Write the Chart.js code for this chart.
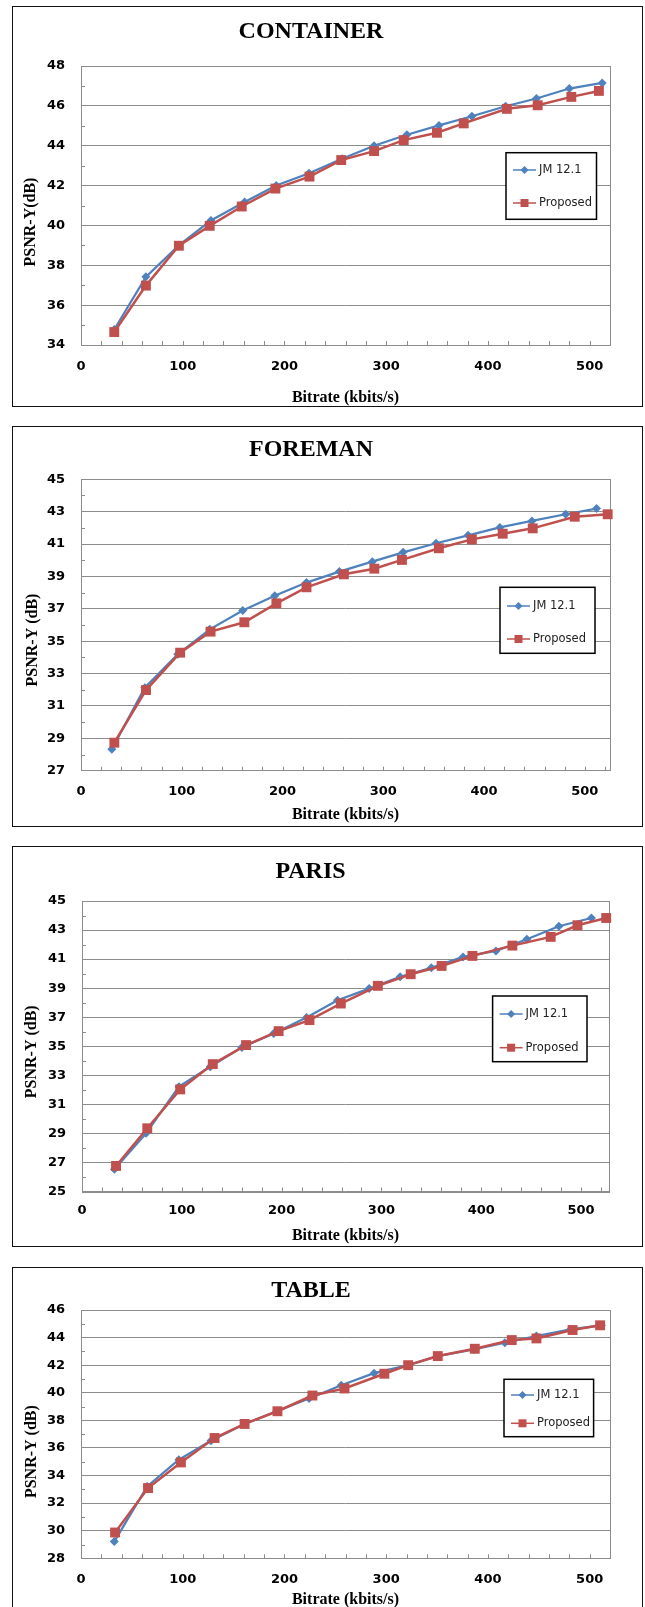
<!DOCTYPE html>
<html>
<head>
<meta charset="utf-8">
<script src="https://cdn.jsdelivr.net/npm/chart.js@4.4.1/dist/chart.umd.min.js"></script>
<style>
html, body { margin: 0; padding: 0; background: #fff; }
body { width: 645px; height: 1607px; overflow: hidden; position: relative; }
.panel { position: absolute; left: 12px; width: 631px; }
.panel::after { content: ''; position: absolute; inset: 0; border: 1.5px solid #111; pointer-events: none; }
.panel canvas { position: absolute; left: 0; top: 0; }
</style>
</head>
<body>
<div class="panel" style="top:6px;height:401px"><canvas id="container" width="631" height="401"></canvas></div>
<div class="panel" style="top:426px;height:401px"><canvas id="foreman" width="631" height="401"></canvas></div>
<div class="panel" style="top:846px;height:401px"><canvas id="paris" width="631" height="401"></canvas></div>
<div class="panel" style="top:1267px;height:342px"><canvas id="table" width="631" height="342"></canvas></div>
<script>
// bitrate (kbits/s) and PSNR-Y (dB)
const rateTicks = [0, 100, 200, 300, 400, 500];

const containerJmRate = [32.7, 63.8, 96.2, 127.7, 160.8, 191.9, 224.2, 256.6, 288.1, 320.4, 351.9, 384.2, 417.4, 447.7, 480, 512.3];
const containerJmPsnr = [34.78, 37.42, 39.0, 40.25, 41.17, 42.0, 42.62, 43.35, 44.0, 44.55, 45.02, 45.48, 45.98, 46.37, 46.87, 47.15];
const containerPropRate = [32.7, 63.8, 96.2, 126.5, 158, 191.1, 224.6, 255.8, 288.1, 317.2, 349.9, 376.2, 418.6, 448.9, 482, 509.1];
const containerPropPsnr = [34.65, 36.98, 38.98, 39.98, 40.95, 41.85, 42.45, 43.28, 43.73, 44.28, 44.65, 45.12, 45.85, 46.03, 46.45, 46.75];
const containerPsnrTicks = [34, 36, 38, 40, 42, 44, 46, 48];

const foremanJmRate = [30.6, 63.3, 96, 127.8, 160.5, 192.3, 223.8, 256.4, 289.1, 319.7, 352.4, 384.2, 415.7, 447.5, 481, 511.6];
const foremanJmPsnr = [28.32, 32.13, 34.19, 35.73, 36.89, 37.81, 38.62, 39.3, 39.91, 40.49, 41.05, 41.54, 42.03, 42.43, 42.84, 43.19];
const foremanPropRate = [33.1, 64.5, 98.4, 128.6, 162.1, 193.9, 223.8, 260.9, 291.1, 318.5, 355.2, 387.9, 418.5, 448.3, 490, 522.7];
const foremanPropPsnr = [28.73, 31.98, 34.29, 35.59, 36.17, 37.34, 38.33, 39.13, 39.48, 40.02, 40.74, 41.29, 41.64, 41.97, 42.69, 42.84];
const foremanPsnrTicks = [27, 29, 31, 33, 35, 37, 39, 41, 43, 45];

const parisJmRate = [32.5, 64.2, 97.2, 128.4, 160.1, 192, 225, 256, 287.7, 318.7, 350, 381.7, 414.7, 445.7, 477.8, 510.4];
const parisJmPsnr = [26.53, 29.01, 32.22, 33.59, 34.92, 35.88, 36.98, 38.17, 38.97, 39.78, 40.4, 41.15, 41.56, 42.37, 43.26, 43.83];
const parisPropRate = [34.1, 65.4, 98.4, 131, 164.4, 197, 227.9, 259.3, 296.4, 329.3, 360.3, 391.2, 431.2, 469.6, 496.4, 525.2];
const parisPropPsnr = [26.76, 29.35, 32.03, 33.77, 35.08, 36.04, 36.8, 37.94, 39.16, 39.96, 40.53, 41.22, 41.93, 42.53, 43.33, 43.83];
const parisPsnrTicks = [25, 27, 29, 31, 33, 35, 37, 39, 41, 43, 45];

const tableJmRate = [32.7, 65, 96.2, 127.7, 160.8, 192.3, 224.2, 255.8, 288.1, 321.6, 350.7, 386.3, 416.6, 447.7, 481.2, 511.5];
const tableJmPsnr = [29.21, 33.21, 35.15, 36.53, 37.74, 38.66, 39.58, 40.55, 41.42, 42.0, 42.66, 43.14, 43.63, 44.11, 44.59, 44.89];
const tablePropRate = [33.5, 65.9, 98.2, 131.3, 160.8, 193.1, 227.5, 259, 298.2, 321.6, 350.7, 387.1, 423.4, 447.7, 483.2, 510.3];
const tablePropPsnr = [29.87, 33.09, 34.95, 36.72, 37.74, 38.66, 39.8, 40.31, 41.38, 42.0, 42.66, 43.19, 43.82, 43.94, 44.55, 44.89];
const tablePsnrTicks = [28, 30, 32, 34, 36, 38, 40, 42, 44, 46];

const BLUE = '#4F81BD';
const RED = '#C0504D';
const GRID = '#8c8c8c';
const SERIF = '"Liberation Serif", "Times New Roman", serif';
const SANS = '"DejaVu Sans", sans-serif';

// plot frame + small inside tick marks (x every 20, y halfway between labels)
const frameTicks = {
    id: 'frameTicks',
    beforeDatasetsDraw(chart) {
        const { ctx, chartArea: a, scales: { x, y } } = chart;
        ctx.save();
        ctx.strokeStyle = GRID;
        ctx.lineWidth = 1;
        ctx.beginPath();
        for (let v = 20; v < x.max; v += 20) {
            const px = Math.round(x.getPixelForValue(v)) + 0.5;
            ctx.moveTo(px, a.bottom);
            ctx.lineTo(px, a.bottom - 4);
        }
        const t = y.ticks;
        for (let i = 0; i < t.length - 1; i++) {
            const py = Math.round(y.getPixelForValue((t[i].value + t[i + 1].value) / 2)) + 0.5;
            ctx.moveTo(a.left, py);
            ctx.lineTo(a.left + 4, py);
        }
        ctx.stroke();
        ctx.strokeRect(Math.round(a.left) + 0.5, Math.round(a.top) + 0.5, Math.round(a.width), Math.round(a.height));
        ctx.restore();
    }
};

// boxed legend inside the plot, like the Excel one
const boxLegend = {
    id: 'boxLegend',
    afterDraw(chart, args, opts) {
        const { ctx, chartArea: a } = chart;
        const x0 = a.right - opts.inset - opts.width;
        const y0 = a.top + opts.top;
        ctx.save();
        ctx.fillStyle = '#fff';
        ctx.fillRect(x0, y0, opts.width, opts.height);
        ctx.strokeStyle = '#000';
        ctx.lineWidth = 1.5;
        ctx.strokeRect(x0, y0, opts.width, opts.height);
        chart.data.datasets.forEach((ds, i) => {
            const cy = y0 + opts.rows[i];
            const cx = x0 + 18.5;
            ctx.strokeStyle = ds.borderColor;
            ctx.lineWidth = 1.5;
            ctx.beginPath();
            ctx.moveTo(x0 + 7, cy);
            ctx.lineTo(x0 + 30, cy);
            ctx.stroke();
            ctx.fillStyle = ds.borderColor;
            ctx.beginPath();
            if (ds.pointStyle === 'rect') {
                ctx.rect(cx - 4, cy - 4, 8, 8);
            } else {
                ctx.moveTo(cx, cy - 4);
                ctx.lineTo(cx + 4, cy);
                ctx.lineTo(cx, cy + 4);
                ctx.lineTo(cx - 4, cy);
                ctx.closePath();
            }
            ctx.fill();
            ctx.fillStyle = '#222';
            ctx.font = '11.5px ' + SANS;
            ctx.textBaseline = 'middle';
            ctx.textAlign = 'left';
            ctx.fillText(ds.label, x0 + 33, cy);
        });
        ctx.restore();
    }
};

// rotated y title, sits a bit below the middle of the plot in the original
const yTitle = {
    id: 'yTitle',
    afterDraw(chart, args, opts) {
        const { ctx, chartArea: a } = chart;
        ctx.save();
        ctx.translate(opts.x, (a.top + a.bottom) / 2 + opts.dy);
        ctx.rotate(-Math.PI / 2);
        ctx.font = 'bold 16px ' + SERIF;
        ctx.fillStyle = '#000';
        ctx.textAlign = 'center';
        ctx.textBaseline = 'middle';
        ctx.fillText(opts.text, 0, 0);
        ctx.restore();
    }
};

function series(rates, psnr) {
    return rates.map((r, i) => ({ x: r, y: psnr[i] }));
}

function makePanel(id, p) {
    new Chart(document.getElementById(id), {
        type: 'scatter',
        data: {
            datasets: [{
                label: 'JM 12.1',
                data: series(p.jmRate, p.jmPsnr),
                showLine: true,
                borderColor: BLUE,
                backgroundColor: BLUE,
                borderWidth: 2.25,
                pointStyle: 'rectRot',
                pointRadius: 4.5,
                pointBorderWidth: 0,
                clip: false,
                order: 1
            }, {
                label: 'Proposed',
                data: series(p.propRate, p.propPsnr),
                showLine: true,
                borderColor: RED,
                backgroundColor: RED,
                borderWidth: 2.5,
                pointStyle: 'rect',
                pointRadius: 7,
                pointBorderWidth: 0,
                clip: false,
                order: 0
            }]
        },
        options: {
            responsive: false,
            animation: false,
            devicePixelRatio: 1,
            layout: { padding: { left: 0, right: p.padRight, top: 0, bottom: 0 } },
            plugins: {
                legend: { display: false },
                tooltip: { enabled: false },
                title: {
                    display: true,
                    text: p.title,
                    color: '#000',
                    font: { family: SERIF, size: 24, weight: 'bold' },
                    padding: { top: p.titleTop, bottom: p.titleBottom }
                },
                boxLegend: p.legend,
                yTitle: { text: p.yLabel, x: p.yTitleX, dy: p.yTitleDy }
            },
            scales: {
                x: {
                    type: 'linear',
                    min: 0,
                    max: p.xMax,
                    afterBuildTicks: s => { s.ticks = rateTicks.map(v => ({ value: v })); },
                    afterFit: s => { s.height = p.xHeight; },
                    grid: { display: false, drawTicks: false },
                    border: { display: false },
                    ticks: { padding: p.xTickPad, color: '#000', font: { family: SANS, size: 13, weight: 'bold' } },
                    title: {
                        display: true,
                        text: 'Bitrate (kbits/s)',
                        color: '#000',
                        font: { family: SERIF, size: 16, weight: 'bold' },
                        padding: { top: 0, bottom: p.xTitleBottom }
                    }
                },
                y: {
                    type: 'linear',
                    min: p.yTicks[0],
                    max: p.yTicks[p.yTicks.length - 1],
                    afterBuildTicks: s => { s.ticks = p.yTicks.map(v => ({ value: v })); },
                    afterFit: s => { s.width = p.yWidth; },
                    grid: { color: GRID, lineWidth: 1, drawTicks: false },
                    border: { display: false },
                    ticks: { padding: 16, color: '#000', font: { family: SANS, size: 13, weight: 'bold' } }
                }
            }
        },
        plugins: [frameTicks, boxLegend, yTitle]
    });
}

makePanel('container', {
    title: 'CONTAINER', yLabel: 'PSNR-Y(dB)',
    jmRate: containerJmRate, jmPsnr: containerJmPsnr, propRate: containerPropRate, propPsnr: containerPropPsnr,
    yTicks: containerPsnrTicks, xMax: 520,
    padRight: 33, yWidth: 69, titleTop: 11.6, titleBottom: 19.6, xHeight: 62, xTickPad: 14, xTitleBottom: 0,
    yTitleX: 19, yTitleDy: 16.5,
    legend: { inset: 13.5, width: 90.5, top: 86.7, height: 66.6, rows: [17.3, 50.3] }
});

makePanel('foreman', {
    title: 'FOREMAN', yLabel: 'PSNR-Y (dB)',
    jmRate: foremanJmRate, jmPsnr: foremanJmPsnr, propRate: foremanPropRate, propPsnr: foremanPropPsnr,
    yTicks: foremanPsnrTicks, xMax: 525,
    padRight: 33, yWidth: 69, titleTop: 9.6, titleBottom: 14.9, xHeight: 56.3, xTickPad: 13.2, xTitleBottom: 2.4,
    yTitleX: 21, yTitleDy: 15,
    legend: { inset: 15, width: 95, top: 108, height: 66, rows: [18.7, 51.7] }
});

makePanel('paris', {
    title: 'PARIS', yLabel: 'PSNR-Y (dB)',
    jmRate: parisJmRate, jmPsnr: parisJmPsnr, propRate: parisPropRate, propPsnr: parisPropPsnr,
    yTicks: parisPsnrTicks, xMax: 528,
    padRight: 34, yWidth: 70, titleTop: 11.3, titleBottom: 14.9, xHeight: 55.5, xTickPad: 11.4, xTitleBottom: 1.4,
    yTitleX: 19.7, yTitleDy: 5.5,
    legend: { inset: 22, width: 94.4, top: 95, height: 65.7, rows: [18, 51.7] }
});

makePanel('table', {
    title: 'TABLE', yLabel: 'PSNR-Y (dB)',
    jmRate: tableJmRate, jmPsnr: tableJmPsnr, propRate: tablePropRate, propPsnr: tablePropPsnr,
    yTicks: tablePsnrTicks, xMax: 520,
    padRight: 33, yWidth: 69, titleTop: 9.3, titleBottom: 4.9, xHeight: 50.7, xTickPad: 13.9, xTitleBottom: 0,
    yTitleX: 19.7, yTitleDy: 17.5,
    legend: { inset: 16.4, width: 89.6, top: 69.3, height: 57.4, rows: [15.7, 44] }
});
</script>
</body>
</html>
